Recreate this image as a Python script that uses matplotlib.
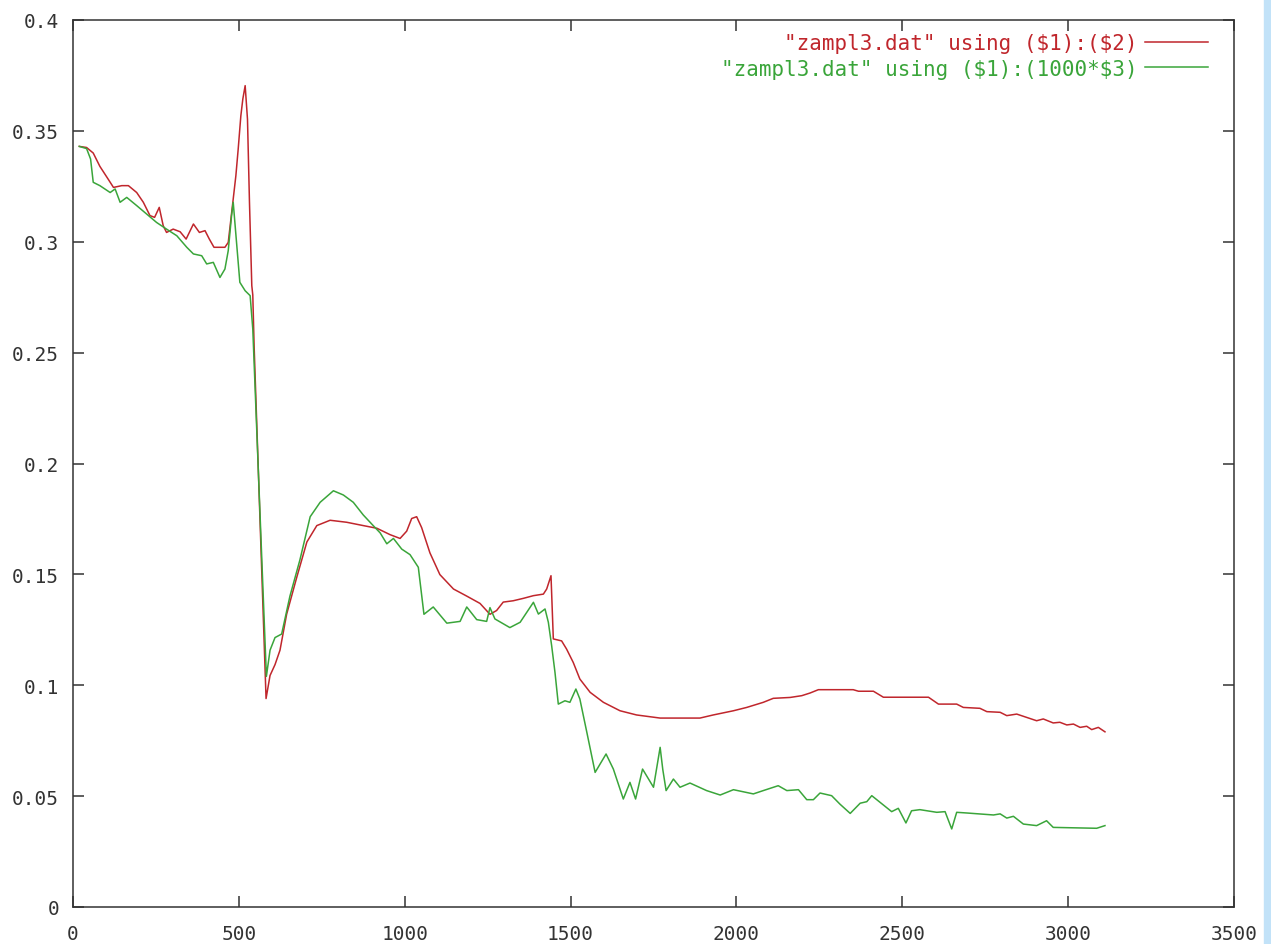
import matplotlib
matplotlib.use("Agg")
import matplotlib.pyplot as plt
from matplotlib.patches import Rectangle

# column 2 of zampl3.dat
x_red = [19, 41, 61, 81, 107, 122, 147, 167, 192, 212, 232, 246, 260, 272, 282,
         302, 323, 341, 363, 381, 398, 411, 425, 458, 468, 483, 491, 498, 506,
         512, 519, 526, 532, 539, 542, 546, 582, 594, 609, 624, 644, 674, 705,
         735, 775, 825, 875, 916, 956, 986, 1006, 1021, 1036, 1051, 1076, 1106,
         1147, 1187, 1227, 1257, 1277, 1297, 1327, 1358, 1388, 1418, 1428, 1441,
         1448, 1473, 1488, 1508, 1528, 1559, 1599, 1649, 1699, 1770, 1830, 1890,
         1930, 1991, 2031, 2081, 2111, 2162, 2197, 2222, 2247, 2352, 2368, 2413,
         2443, 2579, 2609, 2664, 2684, 2734, 2755, 2795, 2815, 2845, 2875, 2905,
         2925, 2955, 2975, 2996, 3016, 3036, 3056, 3071, 3091, 3111]
y_red = [0.343, 0.3425, 0.340, 0.334, 0.328, 0.3245, 0.3253, 0.3253, 0.3222,
         0.3178, 0.3118, 0.3110, 0.3155, 0.3072, 0.3042, 0.3057, 0.3045, 0.3012,
         0.308, 0.3042, 0.305, 0.3012, 0.2975, 0.2975, 0.2997, 0.3193, 0.3298,
         0.3418, 0.3568, 0.3644, 0.3704, 0.3553, 0.3178, 0.2802, 0.2760, 0.2530,
         0.0940, 0.1044, 0.1093, 0.1158, 0.132, 0.1484, 0.1646, 0.172, 0.1744,
         0.1735, 0.172, 0.1708, 0.1679, 0.1662, 0.1695, 0.1752, 0.176, 0.1711,
         0.1597, 0.1499, 0.1434, 0.1402, 0.1369, 0.132, 0.1337, 0.1375, 0.1381,
         0.1392, 0.1404, 0.1411, 0.1434, 0.1494, 0.1209, 0.1200, 0.1163, 0.1103,
         0.1028, 0.0968, 0.0923, 0.0885, 0.0866, 0.0852, 0.0852, 0.0852, 0.0866,
         0.0885, 0.0900, 0.0923, 0.0941, 0.0945, 0.0953, 0.0965, 0.0980, 0.0980,
         0.0973, 0.0973, 0.0946, 0.0946, 0.0915, 0.0915, 0.0900, 0.0896, 0.0881,
         0.0878, 0.0863, 0.0870, 0.0855, 0.0840, 0.0848, 0.0830, 0.0833, 0.0821,
         0.0825, 0.0810, 0.0815, 0.0800, 0.0810, 0.0790]

# column 3 of zampl3.dat, scaled by 1000
x_green = [19, 41, 53, 61, 81, 112, 127, 142, 162, 192, 222, 252, 282, 313, 343,
           363, 388, 403, 423, 443, 458, 468, 478, 483, 488, 493, 503, 519, 534,
           542, 583, 594, 609, 629, 654, 684, 715, 745, 785, 815, 845, 875, 905,
           926, 946, 966, 991, 1016, 1041, 1058, 1086, 1127, 1167, 1187, 1217,
           1247, 1257, 1272, 1317, 1348, 1388, 1403, 1423, 1433, 1443, 1453, 1463,
           1483, 1498, 1516, 1528, 1549, 1574, 1607, 1629, 1659, 1679, 1696, 1717,
           1750, 1770, 1778, 1788, 1810, 1830, 1860, 1910, 1951, 1991, 2051, 2081,
           2126, 2152, 2187, 2212, 2232, 2252, 2287, 2312, 2343, 2373, 2393, 2408,
           2433, 2468, 2488, 2511, 2528, 2553, 2604, 2629, 2649, 2664, 2694, 2775,
           2795, 2815, 2835, 2865, 2905, 2935, 2955, 3086, 3111]
y_green = [0.343, 0.342, 0.3373, 0.3268, 0.3253, 0.3222, 0.3238, 0.3178, 0.3200,
           0.3163, 0.3125, 0.3087, 0.3057, 0.3027, 0.2975, 0.2945, 0.2937, 0.2900,
           0.2907, 0.2839, 0.2877, 0.2960, 0.3118, 0.3178, 0.3087, 0.2997, 0.2817,
           0.2779, 0.2757, 0.2606, 0.1040, 0.1158, 0.1215, 0.1231, 0.1402, 0.1565,
           0.1760, 0.1825, 0.1877, 0.1858, 0.1825, 0.1768, 0.1720, 0.1687, 0.1638,
           0.1662, 0.1614, 0.1589, 0.1532, 0.1320, 0.1353, 0.1280, 0.1288, 0.1353,
           0.1296, 0.1288, 0.1350, 0.1299, 0.1260, 0.1284, 0.1374, 0.1321, 0.1344,
           0.1284, 0.1178, 0.1058, 0.0915, 0.0930, 0.0923, 0.0983, 0.0938, 0.0788,
           0.0607, 0.0690, 0.0622, 0.0487, 0.0562, 0.0487, 0.0622, 0.0540, 0.0720,
           0.0620, 0.0525, 0.0577, 0.0540, 0.0559, 0.0525, 0.0505, 0.0529, 0.0510,
           0.0525, 0.0547, 0.0525, 0.0529, 0.0484, 0.0484, 0.0514, 0.0502, 0.0464,
           0.0422, 0.0468, 0.0475, 0.0502, 0.0472, 0.0430, 0.0445, 0.0379, 0.0434,
           0.0439, 0.0427, 0.0430, 0.0352, 0.0427, 0.0424, 0.0415, 0.0420, 0.0401,
           0.0409, 0.0374, 0.0367, 0.0389, 0.0359, 0.0355, 0.0367]

xticks = [0, 500, 1000, 1500, 2000, 2500, 3000, 3500]
yticks = [0, 0.05, 0.1, 0.15, 0.2, 0.25, 0.3, 0.35, 0.4]
ytick_labels = ["0", "0.05", "0.1", "0.15", "0.2", "0.25", "0.3", "0.35", "0.4"]
labels = [r'"zampl3.dat" using (\$1):(\$2)', r'"zampl3.dat" using (\$1):(1000*\$3)']
colors = ["#c0262c", "#3aa53a"]

plt.rcParams["font.family"] = "DejaVu Sans Mono"

fig = plt.figure(figsize=(12.71, 9.45), dpi=100)
ax = fig.add_axes([73 / 1271, 1 - 908 / 945, 1161 / 1271, 887 / 945])

ax.plot(x_red, y_red, color=colors[0], lw=1.1, label=labels[0])
ax.plot(x_green, y_green, color=colors[1], lw=1.1, label=labels[1])

ax.set_xlim(0, 3500)
ax.set_ylim(0, 0.4)
ax.set_xticks(xticks)
ax.set_xticklabels([str(t) for t in xticks])
ax.set_yticks(yticks)
ax.set_yticklabels(ytick_labels)
ax.tick_params(direction="in", length=8, width=1.1, color="#333333",
               labelsize=14, labelcolor="#333333", top=True, right=True)
ax.tick_params(axis="x", pad=12)
ax.tick_params(axis="y", pad=10)
for sp in ax.spines.values():
    sp.set_color("#333333")
    sp.set_linewidth(1.1)

leg = ax.legend(loc="upper right", bbox_to_anchor=(0.9776, 0.985),
                markerfirst=False, frameon=False, fontsize=15,
                handlelength=3.0, handletextpad=0.4, labelspacing=0.25,
                borderpad=0, borderaxespad=0)
for txt, c in zip(leg.get_texts(), colors):
    txt.set_color(c)

# thin blue strip on the right edge
fig.patches.append(Rectangle((1264 / 1271, 0), 7 / 1271, 1, transform=fig.transFigure,
                             color="#c2e2f8", zorder=0))

fig.savefig("out.png", dpi=100)
